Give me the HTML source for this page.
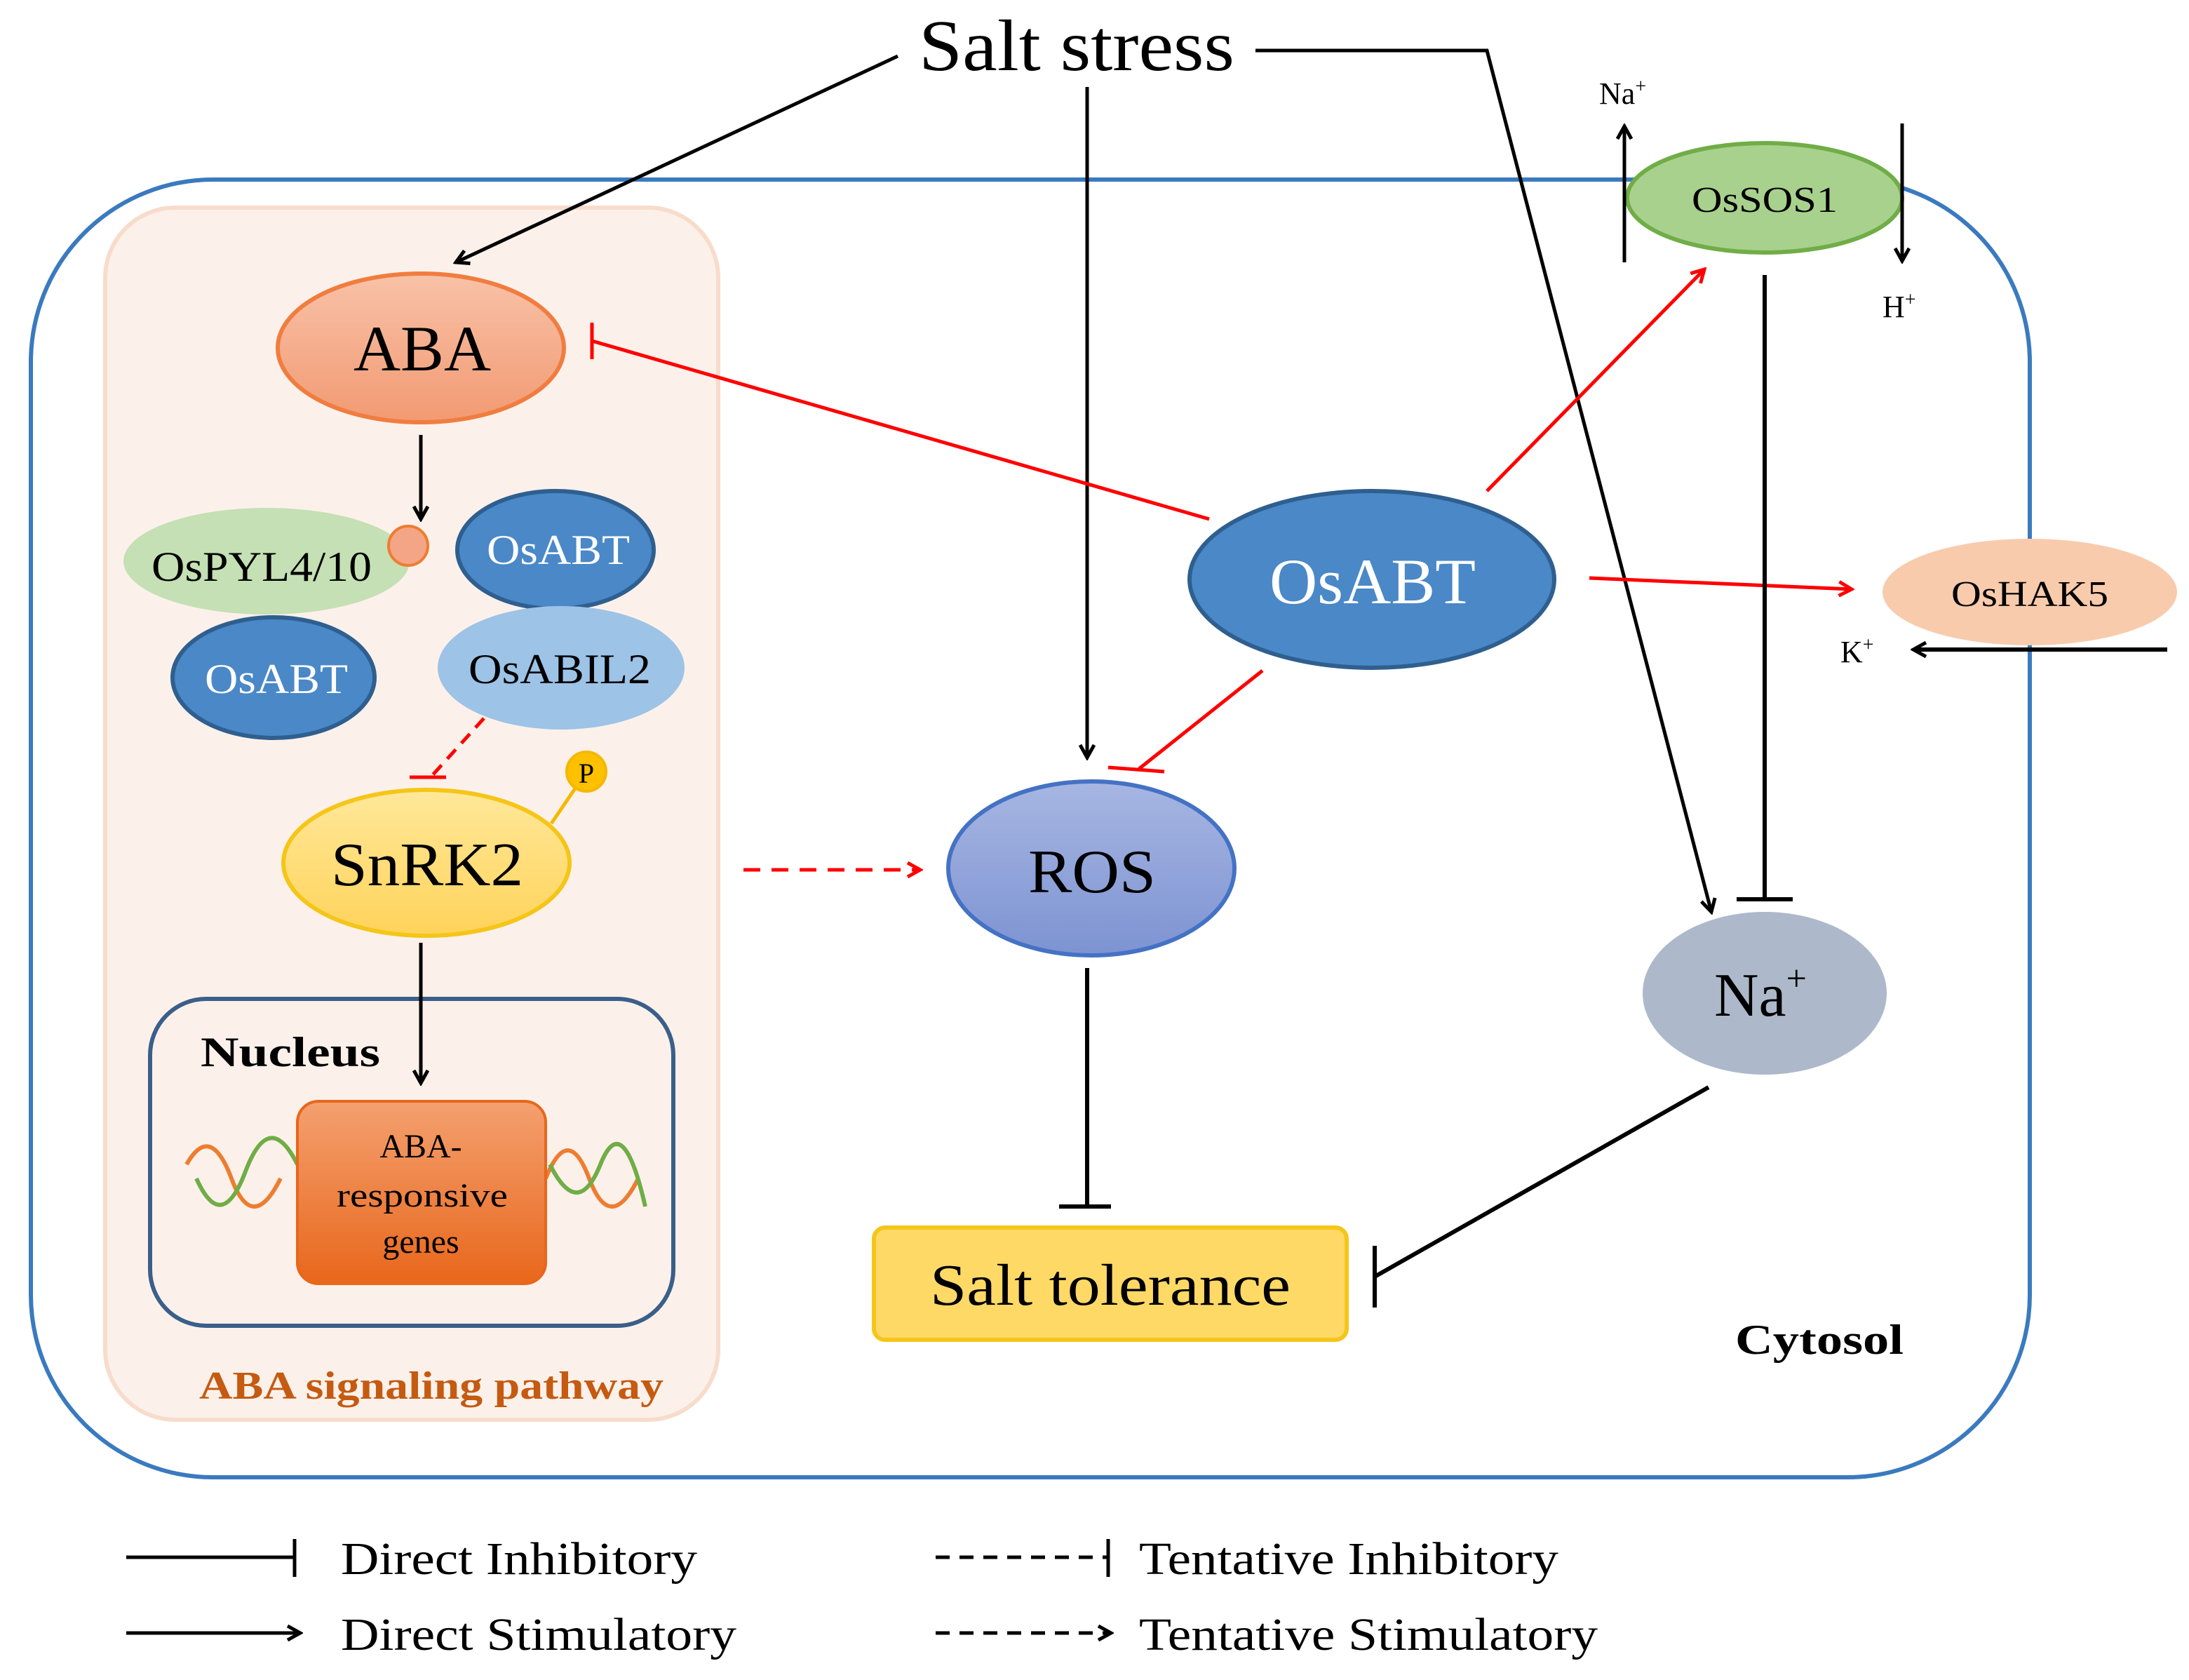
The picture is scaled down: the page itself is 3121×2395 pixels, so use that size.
<!DOCTYPE html>
<html><head><meta charset="utf-8"><style>
html,body{margin:0;padding:0;background:#fff;}
svg{display:block;}
text{font-family:"Liberation Serif",serif;}
</style></head><body>
<svg width="3121" height="2395" viewBox="0 0 1560.5 1197.5" xmlns="http://www.w3.org/2000/svg">
<defs>
<marker id="ab" markerWidth="12" markerHeight="12" refX="10" refY="6" orient="auto" markerUnits="userSpaceOnUse"><path d="M1,1 L10,6 L1,11" fill="none" stroke="#000" stroke-width="2.5"/></marker>
<marker id="ar" markerWidth="12" markerHeight="12" refX="10" refY="6" orient="auto" markerUnits="userSpaceOnUse"><path d="M1,1 L10,6 L1,11" fill="none" stroke="#f00" stroke-width="2.5"/></marker>
<linearGradient id="gAba" x1="0" y1="0" x2="0" y2="1"><stop offset="0" stop-color="#f8c2a8"/><stop offset="1" stop-color="#f29a72"/></linearGradient>
<linearGradient id="gSn" x1="0" y1="0" x2="0" y2="1"><stop offset="0" stop-color="#ffe89a"/><stop offset="1" stop-color="#ffd35a"/></linearGradient>
<linearGradient id="gRos" x1="0" y1="0" x2="0" y2="1"><stop offset="0" stop-color="#a7b6e2"/><stop offset="1" stop-color="#7d93d2"/></linearGradient>
<linearGradient id="gGene" x1="0" y1="0" x2="0" y2="1"><stop offset="0" stop-color="#f4a070"/><stop offset="1" stop-color="#e8671b"/></linearGradient>
</defs>
<rect width="1560.5" height="1197.5" fill="#fff"/>
<rect x="22" y="128" width="1425" height="925" rx="130" fill="none" stroke="#3a7abf" stroke-width="3"/>
<rect x="75" y="148" width="437" height="864" rx="50" fill="#fcf1ea" stroke="#f8dccb" stroke-width="3"/>
<text x="655" y="50" font-size="52" textLength="225" lengthAdjust="spacingAndGlyphs">Salt stress</text>
<line x1="640" y1="40" x2="325" y2="187" stroke="#000" stroke-width="2.5" marker-end="url(#ab)"/>
<line x1="775" y1="62" x2="775" y2="540" stroke="#000" stroke-width="2.5" marker-end="url(#ab)"/>
<polyline points="895,36 1060,36 1220,650" fill="none" stroke="#000" stroke-width="2.5" marker-end="url(#ab)"/>
<ellipse cx="300" cy="248" rx="102" ry="53" fill="url(#gAba)" stroke="#f07d3f" stroke-width="3"/>
<text x="252" y="264" font-size="46" textLength="98" lengthAdjust="spacingAndGlyphs">ABA</text>
<line x1="300" y1="310" x2="300" y2="370" stroke="#000" stroke-width="2.5" marker-end="url(#ab)"/>
<ellipse cx="190" cy="400" rx="102" ry="38" fill="#c5e0b4"/>
<text x="108" y="414" font-size="30" textLength="157" lengthAdjust="spacingAndGlyphs">OsPYL4/10</text>
<circle cx="291" cy="389" r="14" fill="#f4a585" stroke="#ed7d31" stroke-width="2"/>
<ellipse cx="396" cy="392" rx="70" ry="42" fill="#4a88c7" stroke="#2f5f8f" stroke-width="3"/>
<text x="347" y="402" font-size="30" textLength="102" lengthAdjust="spacingAndGlyphs" fill="#fff">OsABT</text>
<ellipse cx="195" cy="483" rx="72" ry="43" fill="#4a88c7" stroke="#2f5f8f" stroke-width="3"/>
<text x="146" y="494" font-size="30" textLength="102" lengthAdjust="spacingAndGlyphs" fill="#fff">OsABT</text>
<ellipse cx="400" cy="476" rx="88" ry="44" fill="#9dc3e6"/>
<text x="334" y="487" font-size="30" textLength="130" lengthAdjust="spacingAndGlyphs">OsABIL2</text>
<line x1="345" y1="512" x2="307" y2="554" stroke="#f00" stroke-width="2.5" stroke-dasharray="9,6"/>
<line x1="292" y1="554" x2="318" y2="554" stroke="#f00" stroke-width="2.5"/>
<line x1="393" y1="587" x2="410" y2="562" stroke="#f5b800" stroke-width="2.5"/>
<circle cx="418" cy="550" r="14" fill="#ffc000" stroke="#f5b800" stroke-width="2"/>
<text x="418" y="558" font-size="20" text-anchor="middle">P</text>
<ellipse cx="304" cy="615" rx="102" ry="52" fill="url(#gSn)" stroke="#f5c518" stroke-width="3"/>
<text x="236" y="631" font-size="44" textLength="137" lengthAdjust="spacingAndGlyphs">SnRK2</text>
<rect x="107" y="712" width="373" height="233" rx="40" fill="#fcf1ea" stroke="#3a5f8a" stroke-width="3"/>
<line x1="300" y1="672" x2="300" y2="772" stroke="#000" stroke-width="2.5" marker-end="url(#ab)"/>
<text x="143" y="760" font-size="30" font-weight="bold" textLength="128" lengthAdjust="spacingAndGlyphs">Nucleus</text>
<path d="M133,830 Q150,800 165,840 T200,840" fill="none" stroke="#ed7d31" stroke-width="3"/>
<path d="M140,840 Q158,880 175,835 T212,830" fill="none" stroke="#70ad47" stroke-width="3"/>
<path d="M389,840 Q405,800 420,840 T455,840" fill="none" stroke="#ed7d31" stroke-width="3"/>
<path d="M392,830 Q412,870 428,830 T460,860" fill="none" stroke="#70ad47" stroke-width="3"/>
<rect x="212" y="785" width="177" height="130" rx="15" fill="url(#gGene)" stroke="#e8671b" stroke-width="2"/>
<text x="300" y="825" font-size="24" text-anchor="middle">ABA-</text>
<text x="240" y="860" font-size="24" textLength="122" lengthAdjust="spacingAndGlyphs">responsive</text>
<text x="300" y="893" font-size="24" text-anchor="middle">genes</text>
<text x="142" y="997" font-size="28" font-weight="bold" fill="#c55a11" textLength="331" lengthAdjust="spacingAndGlyphs">ABA signaling pathway</text>
<line x1="530" y1="620" x2="656" y2="620" stroke="#f00" stroke-width="2.5" stroke-dasharray="12,8" marker-end="url(#ar)"/>
<ellipse cx="778" cy="619" rx="102" ry="62" fill="url(#gRos)" stroke="#4472c4" stroke-width="3"/>
<text x="733" y="636" font-size="44" textLength="91" lengthAdjust="spacingAndGlyphs">ROS</text>
<line x1="775" y1="690" x2="775" y2="860" stroke="#000" stroke-width="3"/>
<line x1="755" y1="860" x2="792" y2="860" stroke="#000" stroke-width="3"/>
<rect x="623" y="875" width="337" height="80" rx="8" fill="#ffd966" stroke="#f5c518" stroke-width="3"/>
<text x="663" y="930" font-size="42" textLength="257" lengthAdjust="spacingAndGlyphs">Salt tolerance</text>
<ellipse cx="978" cy="413" rx="130" ry="63" fill="#4a88c7" stroke="#2f5f8f" stroke-width="3"/>
<text x="905" y="430" font-size="46" textLength="147" lengthAdjust="spacingAndGlyphs" fill="#fff">OsABT</text>
<line x1="862" y1="370" x2="422" y2="243" stroke="#f00" stroke-width="2.5"/>
<line x1="422" y1="230" x2="422" y2="256" stroke="#f00" stroke-width="2.5"/>
<line x1="1060" y1="350" x2="1215" y2="192" stroke="#f00" stroke-width="2.5" marker-end="url(#ar)"/>
<line x1="1133" y1="412" x2="1320" y2="420" stroke="#f00" stroke-width="2.5" marker-end="url(#ar)"/>
<line x1="900" y1="478" x2="812" y2="548" stroke="#f00" stroke-width="2.5"/>
<line x1="790" y1="547" x2="830" y2="550" stroke="#f00" stroke-width="2.5"/>
<ellipse cx="1258" cy="141" rx="98" ry="39" fill="#a9d18e" stroke="#70ad47" stroke-width="3"/>
<text x="1206" y="151" font-size="26" textLength="104" lengthAdjust="spacingAndGlyphs">OsSOS1</text>
<line x1="1158" y1="187" x2="1158" y2="90" stroke="#000" stroke-width="2.5" marker-end="url(#ab)"/>
<text x="1140" y="74" font-size="22">Na<tspan font-size="14" dy="-8">+</tspan></text>
<line x1="1356" y1="88" x2="1356" y2="186" stroke="#000" stroke-width="2.5" marker-end="url(#ab)"/>
<text x="1342" y="226" font-size="22">H<tspan font-size="14" dy="-8">+</tspan></text>
<line x1="1258" y1="196" x2="1258" y2="641" stroke="#000" stroke-width="3"/>
<line x1="1238" y1="641" x2="1278" y2="641" stroke="#000" stroke-width="3"/>
<ellipse cx="1258" cy="708" rx="87" ry="58" fill="#adb9ca"/>
<text x="1222" y="724" font-size="44">Na<tspan font-size="26" dy="-18">+</tspan></text>
<line x1="1218" y1="775" x2="980" y2="910" stroke="#000" stroke-width="3"/>
<line x1="980" y1="888" x2="980" y2="932" stroke="#000" stroke-width="3"/>
<ellipse cx="1447" cy="422" rx="105" ry="38" fill="#f8cbad"/>
<text x="1391" y="432" font-size="26" textLength="112" lengthAdjust="spacingAndGlyphs">OsHAK5</text>
<line x1="1545" y1="463" x2="1364" y2="463" stroke="#000" stroke-width="3" marker-end="url(#ab)"/>
<text x="1312" y="472" font-size="22">K<tspan font-size="14" dy="-8">+</tspan></text>
<text x="1237" y="965" font-size="30" font-weight="bold" textLength="120" lengthAdjust="spacingAndGlyphs">Cytosol</text>
<line x1="90" y1="1110" x2="210" y2="1110" stroke="#000" stroke-width="2.5"/>
<line x1="210" y1="1097" x2="210" y2="1124" stroke="#000" stroke-width="2.5"/>
<text x="243" y="1122" font-size="33" textLength="254" lengthAdjust="spacingAndGlyphs">Direct Inhibitory</text>
<line x1="90" y1="1164" x2="214" y2="1164" stroke="#000" stroke-width="2.5" marker-end="url(#ab)"/>
<text x="243" y="1176" font-size="33" textLength="282" lengthAdjust="spacingAndGlyphs">Direct Stimulatory</text>
<line x1="667" y1="1110" x2="790" y2="1110" stroke="#000" stroke-width="2.5" stroke-dasharray="10,7"/>
<line x1="790" y1="1097" x2="790" y2="1124" stroke="#000" stroke-width="2.5"/>
<text x="812" y="1122" font-size="33" textLength="299" lengthAdjust="spacingAndGlyphs">Tentative Inhibitory</text>
<line x1="667" y1="1164" x2="792" y2="1164" stroke="#000" stroke-width="2.5" stroke-dasharray="10,7" marker-end="url(#ab)"/>
<text x="812" y="1176" font-size="33" textLength="327" lengthAdjust="spacingAndGlyphs">Tentative Stimulatory</text>
</svg>
</body></html>
